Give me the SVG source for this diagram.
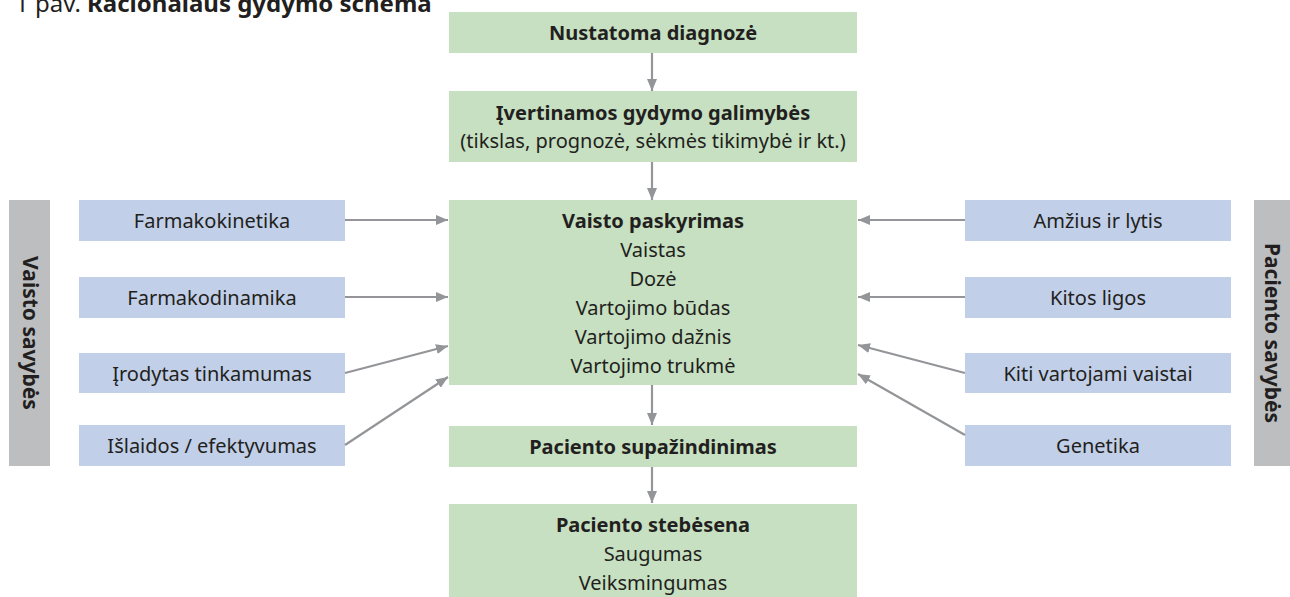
<svg xmlns="http://www.w3.org/2000/svg" width="1290" height="597" viewBox="0 0 1290 597">
  <defs>
    <marker id="arrow" viewBox="0 0 12 10" refX="12" refY="5" markerWidth="12" markerHeight="10" markerUnits="userSpaceOnUse" orient="auto">
      <path d="M0,0 L12,5 L0,10 Z" fill="#939598"/>
    </marker>
    <style>
      text { font-family: "Noto Sans", "Liberation Sans", sans-serif; fill: #231f20; font-size: 20px; }
      .b { font-weight: bold; }
      .title { font-size: 24px; }
      .vert { font-size: 21px; }
      .step { fill: #c6e0c1; }
      .factor { fill: #c1cfe8; }
      .side { fill: #bcbec0; }
      .c { text-anchor: middle; }
      .link { stroke: #939598; stroke-width: 2.2; fill: none; marker-end: url(#arrow); }
    </style>
  </defs>

  <text class="title" x="15" y="12">1 pav. <tspan class="b">Racionalaus gydymo schema</tspan></text>

  <!-- main flow -->
  <g id="diagnoze">
    <rect class="step" x="449" y="12" width="408" height="41"/>
    <text class="c b" x="653" y="40">Nustatoma diagnozė</text>
  </g>
  <g id="galimybes">
    <rect class="step" x="449" y="91" width="408" height="71"/>
    <text class="c b" x="653" y="120">Įvertinamos gydymo galimybės</text>
    <text class="c" x="653" y="148">(tikslas, prognozė, sėkmės tikimybė ir kt.)</text>
  </g>
  <g id="paskyrimas">
    <rect class="step" x="449" y="200" width="408" height="185"/>
    <text class="c b" x="653" y="228">Vaisto paskyrimas</text>
    <text class="c" x="653" y="257">Vaistas</text>
    <text class="c" x="653" y="286">Dozė</text>
    <text class="c" x="653" y="315">Vartojimo būdas</text>
    <text class="c" x="653" y="344">Vartojimo dažnis</text>
    <text class="c" x="653" y="373">Vartojimo trukmė</text>
  </g>
  <g id="supazindinimas">
    <rect class="step" x="449" y="426" width="408" height="41"/>
    <text class="c b" x="653" y="454">Paciento supažindinimas</text>
  </g>
  <g id="stebesena">
    <rect class="step" x="449" y="504" width="408" height="93"/>
    <text class="c b" x="653" y="532">Paciento stebėsena</text>
    <text class="c" x="653" y="561">Saugumas</text>
    <text class="c" x="653" y="590">Veiksmingumas</text>
  </g>

  <!-- drug properties -->
  <g id="vaisto-savybes">
    <rect class="side" x="9" y="200" width="41" height="266"/>
    <text class="c b vert" transform="translate(29.5 333) rotate(90)" y="7">Vaisto savybės</text>
  </g>
  <g id="farmakokinetika">
    <rect class="factor" x="79" y="200" width="266" height="41"/>
    <text class="c" x="212" y="228">Farmakokinetika</text>
  </g>
  <g id="farmakodinamika">
    <rect class="factor" x="79" y="277" width="266" height="41"/>
    <text class="c" x="212" y="305">Farmakodinamika</text>
  </g>
  <g id="tinkamumas">
    <rect class="factor" x="79" y="353" width="266" height="40"/>
    <text class="c" x="212" y="381">Įrodytas tinkamumas</text>
  </g>
  <g id="islaidos">
    <rect class="factor" x="79" y="425" width="266" height="41"/>
    <text class="c" x="212" y="453">Išlaidos / efektyvumas</text>
  </g>

  <!-- patient properties -->
  <g id="paciento-savybes">
    <rect class="side" x="1254" y="200" width="41" height="266"/>
    <text class="c b vert" transform="translate(1272 333) rotate(90)" y="7">Paciento savybės</text>
  </g>
  <g id="amzius">
    <rect class="factor" x="965" y="200" width="266" height="41"/>
    <text class="c" x="1098" y="228">Amžius ir lytis</text>
  </g>
  <g id="ligos">
    <rect class="factor" x="965" y="277" width="266" height="41"/>
    <text class="c" x="1098" y="305">Kitos ligos</text>
  </g>
  <g id="vaistai">
    <rect class="factor" x="965" y="353" width="266" height="40"/>
    <text class="c" x="1098" y="381">Kiti vartojami vaistai</text>
  </g>
  <g id="genetika">
    <rect class="factor" x="965" y="425" width="266" height="41"/>
    <text class="c" x="1098" y="453">Genetika</text>
  </g>

  <!-- connectors -->
  <g id="connectors">
    <line class="link" x1="652" y1="53" x2="652" y2="91"/>
    <line class="link" x1="652" y1="162" x2="652" y2="200"/>
    <line class="link" x1="652" y1="385" x2="652" y2="425"/>
    <line class="link" x1="652" y1="467" x2="652" y2="503"/>
    <line class="link" x1="345" y1="220" x2="448" y2="220"/>
    <line class="link" x1="345" y1="297" x2="448" y2="297"/>
    <line class="link" x1="345" y1="373" x2="448" y2="346"/>
    <line class="link" x1="345" y1="445" x2="448" y2="377"/>
    <line class="link" x1="965" y1="220" x2="858" y2="220"/>
    <line class="link" x1="965" y1="297" x2="858" y2="297"/>
    <line class="link" x1="965" y1="373" x2="858" y2="345"/>
    <line class="link" x1="965" y1="435" x2="858" y2="374"/>
  </g>
</svg>
